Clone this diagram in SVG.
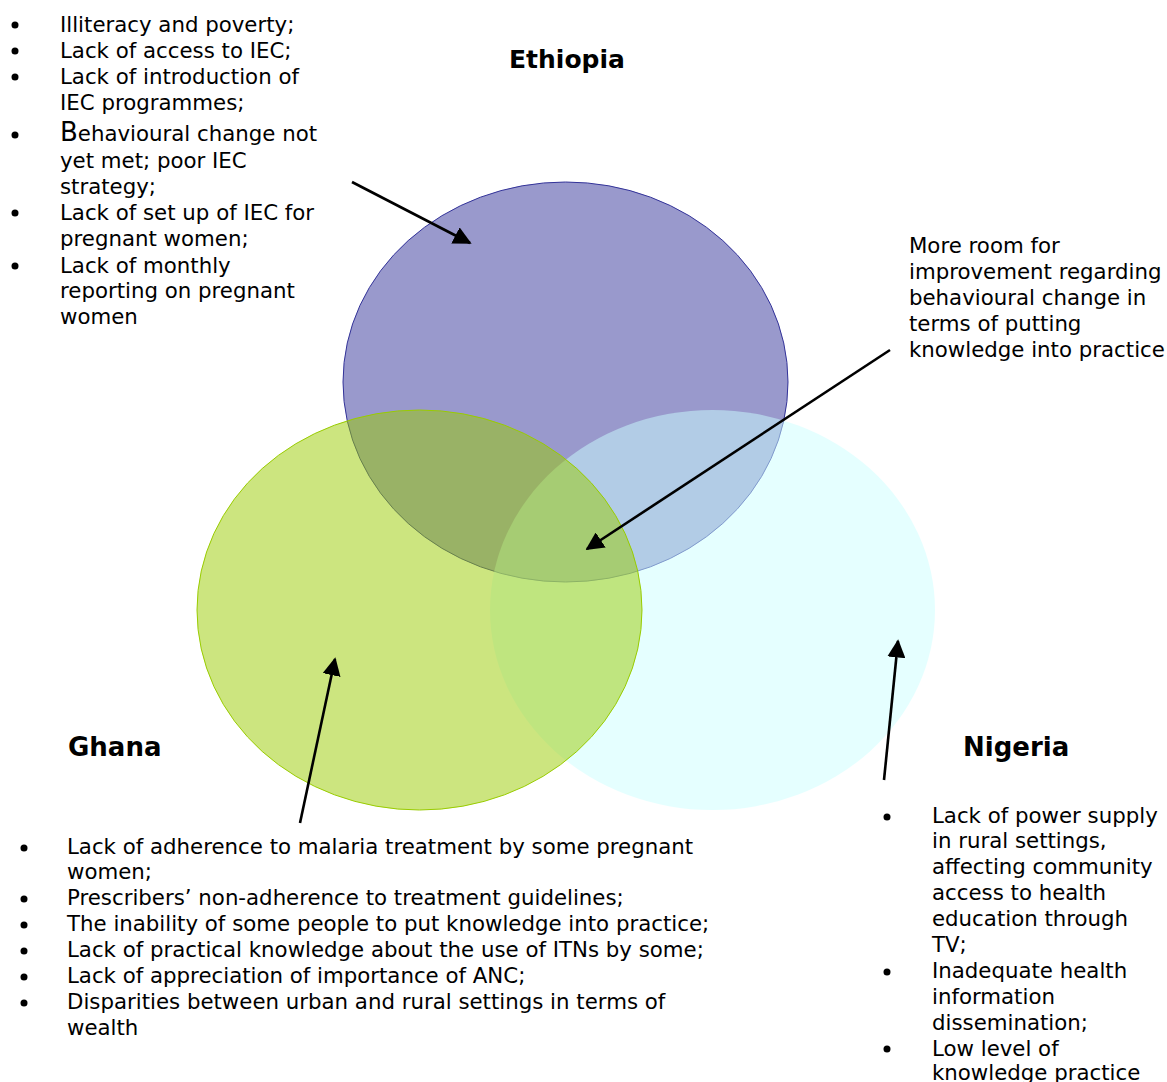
<svg xmlns="http://www.w3.org/2000/svg" width="1167" height="1082" viewBox="0 0 1167 1082">
  <style>
    .t { font-family: "DejaVu Sans", Verdana, sans-serif; font-size: 21.3px; fill: #000; }
    .h { font-family: "DejaVu Sans", Verdana, sans-serif; font-size: 25px; font-weight: bold; fill: #000; }
    .h2 { font-size: 26px; }
    .dot { fill: #000; }
    .arrow { stroke: #000; stroke-width: 2.6; fill: none; marker-end: url(#head); }
  </style>
  <defs>
    <marker id="head" viewBox="0 0 10 10" refX="9" refY="5" markerWidth="7" markerHeight="7" markerUnits="strokeWidth" orient="auto">
      <path d="M0,0 L10,5 L0,10 Z" fill="#000"/>
    </marker>
  </defs>
  <rect width="1167" height="1082" fill="#fff"/>

  <!-- three overlapping sets -->
  <g id="ethiopia-set">
    <ellipse cx="565.5" cy="382" rx="222.5" ry="200" fill="#333399" fill-opacity="0.5" stroke="#333399" stroke-width="1"/>
  </g>
  <g id="nigeria-set">
    <ellipse cx="712.5" cy="610" rx="222.5" ry="200" fill="#CCFFFF" fill-opacity="0.5"/>
  </g>
  <g id="ghana-set">
    <ellipse cx="419.5" cy="610" rx="222.5" ry="200" fill="#99CC00" fill-opacity="0.5" stroke="#99CC00" stroke-width="1"/>
  </g>

  <!-- set titles -->
  <g id="title-ethiopia"><text class="h" x="509" y="68">Ethiopia</text></g>
  <g id="title-ghana"><text class="h h2" x="68" y="756">Ghana</text></g>
  <g id="title-nigeria"><text class="h h2" x="963" y="756">Nigeria</text></g>

  <!-- Ethiopia notes -->
  <g id="notes-ethiopia">
    <circle class="dot" cx="15" cy="25" r="3.5"/>
    <circle class="dot" cx="15" cy="51" r="3.5"/>
    <circle class="dot" cx="15" cy="77" r="3.5"/>
    <circle class="dot" cx="15" cy="135" r="3.5"/>
    <circle class="dot" cx="15" cy="213" r="3.5"/>
    <circle class="dot" cx="15" cy="266" r="3.5"/>
    <text class="t" x="60" y="32">Illiteracy and poverty;</text>
    <text class="t" x="60" y="58">Lack of access to IEC;</text>
    <text class="t" x="60" y="84">Lack of introduction of</text>
    <text class="t" x="60" y="110">IEC programmes;</text>
    <text class="t" x="60" y="141"><tspan font-size="26px">B</tspan>ehavioural change not</text>
    <text class="t" x="60" y="168">yet met; poor IEC</text>
    <text class="t" x="60" y="194">strategy;</text>
    <text class="t" x="60" y="220">Lack of set up of IEC for</text>
    <text class="t" x="60" y="246">pregnant women;</text>
    <text class="t" x="60" y="273">Lack of monthly</text>
    <text class="t" x="60" y="298">reporting on pregnant</text>
    <text class="t" x="60" y="324">women</text>
  </g>

  <!-- shared note -->
  <g id="notes-common">
    <text class="t" x="909" y="253">More room for</text>
    <text class="t" x="909" y="279">improvement regarding</text>
    <text class="t" x="909" y="305">behavioural change in</text>
    <text class="t" x="909" y="331">terms of putting</text>
    <text class="t" x="909" y="357">knowledge into practice</text>
  </g>

  <!-- Ghana notes -->
  <g id="notes-ghana">
    <circle class="dot" cx="24" cy="848" r="3.5"/>
    <circle class="dot" cx="24" cy="899" r="3.5"/>
    <circle class="dot" cx="24" cy="925" r="3.5"/>
    <circle class="dot" cx="24" cy="951" r="3.5"/>
    <circle class="dot" cx="24" cy="977" r="3.5"/>
    <circle class="dot" cx="24" cy="1003" r="3.5"/>
    <text class="t" x="67" y="854">Lack of adherence to malaria treatment by some pregnant</text>
    <text class="t" x="67" y="879">women;</text>
    <text class="t" x="67" y="905">Prescribers’ non-adherence to treatment guidelines;</text>
    <text class="t" x="67" y="931">The inability of some people to put knowledge into practice;</text>
    <text class="t" x="67" y="957">Lack of practical knowledge about the use of ITNs by some;</text>
    <text class="t" x="67" y="983">Lack of appreciation of importance of ANC;</text>
    <text class="t" x="67" y="1009">Disparities between urban and rural settings in terms of</text>
    <text class="t" x="67" y="1035">wealth</text>
  </g>

  <!-- Nigeria notes -->
  <g id="notes-nigeria">
    <circle class="dot" cx="887" cy="817" r="3.5"/>
    <circle class="dot" cx="887" cy="972" r="3.5"/>
    <circle class="dot" cx="887" cy="1049" r="3.5"/>
    <text class="t" x="932" y="823">Lack of power supply</text>
    <text class="t" x="932" y="848">in rural settings,</text>
    <text class="t" x="932" y="874">affecting community</text>
    <text class="t" x="932" y="900">access to health</text>
    <text class="t" x="932" y="926">education through</text>
    <text class="t" x="932" y="952">TV;</text>
    <text class="t" x="932" y="978">Inadequate health</text>
    <text class="t" x="932" y="1004">information</text>
    <text class="t" x="932" y="1030">dissemination;</text>
    <text class="t" x="932" y="1056">Low level of</text>
    <text class="t" x="932" y="1080">knowledge practice</text>
  </g>

  <!-- pointer arrows -->
  <g id="connectors">
    <line class="arrow" x1="352" y1="182" x2="470" y2="243"/>
    <line class="arrow" x1="890" y1="350" x2="587" y2="549"/>
    <line class="arrow" x1="300" y1="823" x2="335" y2="659"/>
    <line class="arrow" x1="884" y1="780" x2="898" y2="641"/>
  </g>
</svg>
